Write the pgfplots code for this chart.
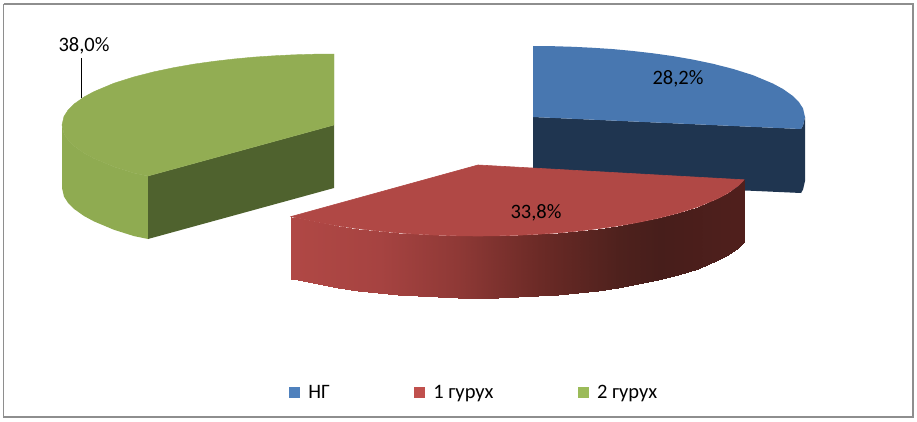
\documentclass[border=0pt]{standalone}
\usepackage{fontspec}
\setmainfont{Carlito}
\usepackage{pgfplots}
\pgfplotsset{compat=1.18}

\definecolor{bluetop}{HTML}{4877B0}
\definecolor{bluedark}{HTML}{1F3550}
\definecolor{redtop}{HTML}{B04845}
\definecolor{greentop}{HTML}{92AD53}
\definecolor{greenside}{HTML}{8FAB51}
\definecolor{greendark}{HTML}{4F622E}
\definecolor{lgblue}{HTML}{4F81BD}
\definecolor{lgred}{HTML}{C0504D}
\definecolor{lggreen}{HTML}{9BBB59}
\definecolor{framegray}{HTML}{8E8E8E}

\pgfplotsset{
  legendsq/.style={legend image code/.code={\path[##1] (0pt,-5.5pt) rectangle (11.5pt,5.5pt);}},
}

\begin{document}
\begin{tikzpicture}
\begin{axis}[
    scale only axis,
    width=917pt, height=422pt,
    xmin=0, xmax=917, ymin=0, ymax=422,
    y dir=reverse,
    hide axis,
    clip=false,
    colormap={redside}{rgb255(0pt)=(176,72,69) rgb255(89pt)=(166,67,65) rgb255(166pt)=(143,57,54)
      rgb255(249pt)=(107,42,38) rgb255(329pt)=(78,33,29) rgb255(369pt)=(71,30,27) rgb255(453pt)=(80,31,28)},
    point meta min=291, point meta max=744,
    legend columns=3,
    legend cell align=left,
    legend style={draw=none, fill=none, at={(axis cs:474,392.5)}, anchor=center,
      font=\fontsize{20.5}{24}\selectfont, inner sep=0pt,
      /tikz/every odd column/.append style={column sep=6pt},
      /tikz/every even column/.append style={column sep=82pt}},
]
% keeps the page as large as the whole chart area
\addplot[draw=none, forget plot] coordinates {(0,0) (917,422)};
% outer frame
\addplot[framegray, line width=1.3pt, forget plot] coordinates {(3.5,4) (913,4) (913,417) (3.5,417) (3.5,4)};

% green slice
\addplot[fill=greenside, draw=none, forget plot] coordinates {
  (62,125) (64,133.6) (68,139.8) (74,145.9) (84,153) (94,158.4) (114,166.8) (134,173.1) (148,176)
  (148,239) (134,236.1) (114,229.8) (94,221.4) (84,216) (74,208.9) (68,202.8) (64,196.6) (62,188) (62,125)};
\addplot[fill=greendark, draw=none, forget plot] coordinates {(148,176) (334,125) (334,188) (148,239) (148,176)};
\addplot[fill=greentop, draw=greentop, line width=0.4pt, forget plot] coordinates {
  (334,54) (314,54.2) (294,54.8) (274,55.8) (254,57.1) (234,59) (214,61.3) (194,64.1) (174,67.6)
  (154,71.8) (134,76.9) (114,83.2) (94,91.6) (84,97) (74,104.1) (68,110.2) (64,116.4) (62,125)
  (64,133.6) (68,139.8) (74,145.9) (84,153) (94,158.4) (114,166.8) (134,173.1) (148,176)
  (334,125) (334,54)};

% blue slice
\addplot[fill=bluedark, draw=none, forget plot] coordinates {(533,117) (801,129) (801,193) (533,181) (533,117)};
\addplot[fill=bluedark, draw=none, forget plot] coordinates {(801,129) (803,125.6) (805,117) (805,181) (803,189.6) (801,193) (801,129)};
\addplot[fill=bluetop, draw=none, forget plot] coordinates {
  (533,46) (553,46.2) (573,46.8) (593,47.8) (613,49.1) (633,51) (653,53.3) (673,56.1) (693,59.6)
  (713,63.8) (733,68.9) (753,75.2) (773,83.6) (783,89) (793,96.1) (799,102.2) (803,108.4) (805,117)
  (803,125.6) (801,129) (533,117) (533,46)};

% red slice, outer wall in strips coloured along x
\addplot[patch, patch type=rectangle, shader=interp, point meta=x, forget plot] coordinates {
  (291,216.6)(298,218.2)(298,280.2)(291,278.6)
  (298,218.2)(318,222.4)(318,284.4)(298,280.2)
  (318,222.4)(338,225.9)(338,287.9)(318,284.4)
  (338,225.9)(358,228.7)(358,290.7)(338,287.9)
  (358,228.7)(378,231)(378,293)(358,290.7)
  (378,231)(398,232.9)(398,294.9)(378,293)
  (398,232.9)(418,234.2)(418,296.2)(398,294.9)
  (418,234.2)(438,235.2)(438,297.2)(418,296.2)
  (438,235.2)(458,235.8)(458,297.8)(438,297.2)
  (458,235.8)(478,236)(478,298)(458,297.8)
  (478,236)(498,235.8)(498,297.8)(478,298)
  (498,235.8)(518,235.2)(518,297.2)(498,297.8)
  (518,235.2)(538,234.2)(538,296.2)(518,297.2)
  (538,234.2)(558,232.9)(558,294.9)(538,296.2)
  (558,232.9)(578,231)(578,293)(558,294.9)
  (578,231)(598,228.7)(598,290.7)(578,293)
  (598,228.7)(618,225.9)(618,287.9)(598,290.7)
  (618,225.9)(638,222.4)(638,284.4)(618,287.9)
  (638,222.4)(658,218.2)(658,280.2)(638,284.4)
  (658,218.2)(678,213.1)(678,275.1)(658,280.2)
  (678,213.1)(698,206.8)(698,268.8)(678,275.1)
  (698,206.8)(718,198.4)(718,260.4)(698,268.8)
  (718,198.4)(728,193)(728,255)(718,260.4)
  (728,193)(738,185.9)(738,247.9)(728,255)
  (738,185.9)(744,179.8)(744,241.8)(738,247.9)
};
\addplot[fill=redtop, draw=redtop, line width=0.6pt, forget plot] coordinates {
  (478,165) (291,216.6) (298,218.2) (318,222.4) (338,225.9) (358,228.7) (378,231) (398,232.9)
  (418,234.2) (438,235.2) (458,235.8) (478,236) (498,235.8) (518,235.2) (538,234.2) (558,232.9)
  (578,231) (598,228.7) (618,225.9) (638,222.4) (658,218.2) (678,213.1) (698,206.8) (718,198.4)
  (728,193) (738,185.9) (744,179.8) (478,165)};

% leader line of the green label
\addplot[black, line width=1pt, forget plot] coordinates {(81,58) (81,98)};

\node[font=\fontsize{20.5}{24}\selectfont] at (axis cs:84,46) {38,0\%};
\node[font=\fontsize{20.5}{24}\selectfont] at (axis cs:678,79) {28,2\%};
\node[font=\fontsize{20.5}{24}\selectfont] at (axis cs:536,213) {33,8\%};

\addlegendimage{legendsq, fill=lgblue, draw=none}
\addlegendentry{НГ}
\addlegendimage{legendsq, fill=lgred, draw=none}
\addlegendentry{1 гурух}
\addlegendimage{legendsq, fill=lggreen, draw=none}
\addlegendentry{2 гурух}
\end{axis}
\end{tikzpicture}
\end{document}
